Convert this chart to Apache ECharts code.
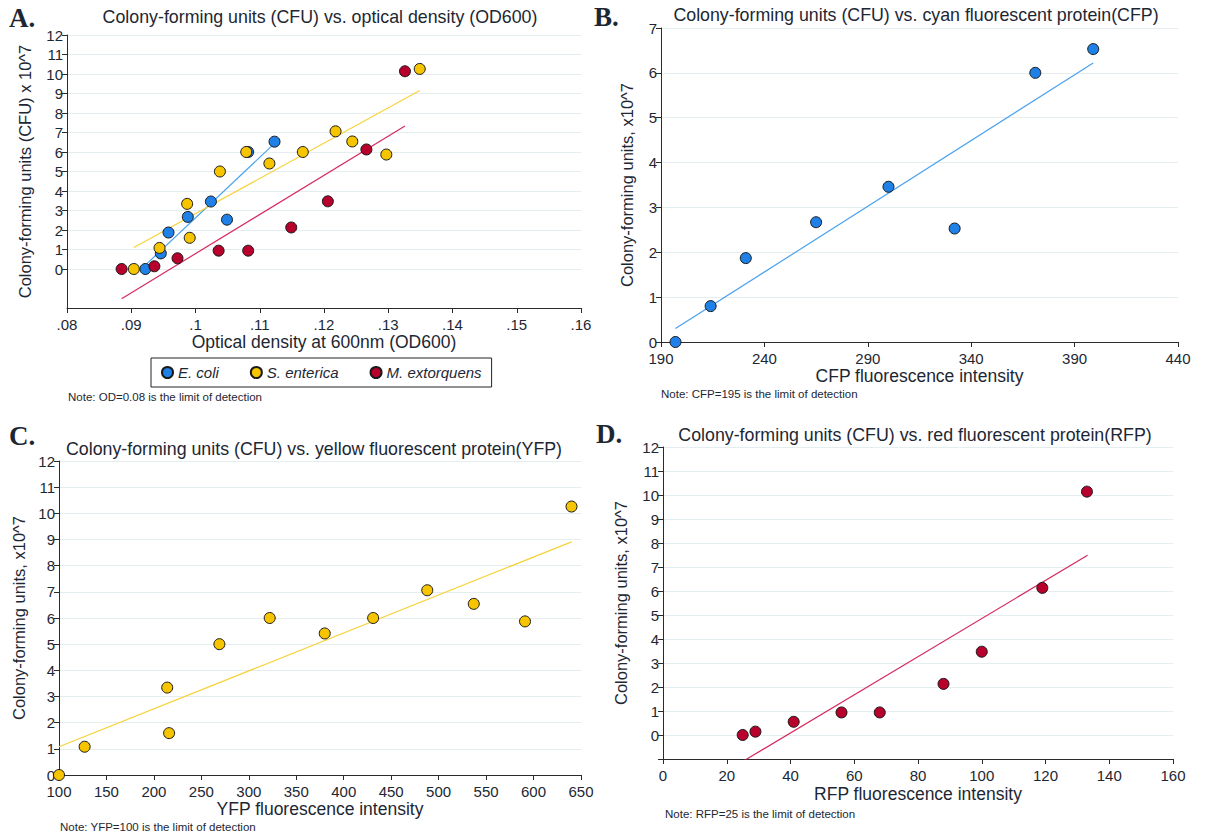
<!DOCTYPE html>
<html>
<head>
<meta charset="utf-8">
<style>
  html, body { margin: 0; padding: 0; background: #fff; }
  #chart { width: 1205px; height: 837px; }
</style>
<script src="https://cdn.jsdelivr.net/npm/echarts@6.0.0/dist/echarts.min.js"></script>
</head>
<body>
<div id="chart"></div>
<script>
// E. coli: OD600, CFP, CFU (x10^7)
const ecoliOD = [0.0922, 0.0946, 0.0958, 0.0988, 0.1024, 0.1049, 0.1082, 0.1123];
const ecoliCFP = [197, 214, 231, 265, 300, 332, 371, 399];
const ecoliCFU = [0, 0.8, 1.87, 2.67, 3.46, 2.53, 6.0, 6.53];

// S. enterica: OD600, YFP, CFU
const sentOD = [0.0904, 0.0944, 0.0987, 0.0991, 0.1038, 0.1079, 0.1115, 0.1167, 0.1218, 0.1244, 0.1297, 0.1349];
const sentYFP = [100, 127, 214, 216, 269, 322, 380, 431, 488, 537, 591, 640];
const sentCFU = [0, 1.08, 3.34, 1.6, 5.0, 6.0, 5.41, 6.0, 7.06, 6.54, 5.87, 10.26];

// M. extorquens: OD600, RFP, CFU
const mextOD = [0.0885, 0.0936, 0.0972, 0.1036, 0.1082, 0.1149, 0.1206, 0.1266, 0.1326];
const mextRFP = [25, 29, 41, 56, 68, 88, 100, 119, 133];
const mextCFU = [0, 0.14, 0.55, 0.94, 0.94, 2.13, 3.47, 6.13, 10.14];

// fitted lines, end points
const fitA_ecoli = { x: [0.0922, 0.1123], y: [0.2, 6.44] };
const fitA_sent = { x: [0.0904, 0.1349], y: [1.1, 9.15] };
const fitA_mext = { x: [0.0885, 0.1326], y: [-1.52, 7.33] };
const fitB = { x: [197, 399], y: [0.3, 6.22] };
const fitC = { x: [100, 640], y: [1.08, 8.91] };
const fitD = { x: [25.3, 133.2], y: [-1.08, 7.49] };

// tick labels
const odTicks = [0.08, 0.09, 0.10, 0.11, 0.12, 0.13, 0.14, 0.15, 0.16];
const cfpTicks = [190, 240, 290, 340, 390, 440];
const yfpTicks = [100, 150, 200, 250, 300, 350, 400, 450, 500, 550, 600, 650];
const rfpTicks = [0, 20, 40, 60, 80, 100, 120, 140, 160];
const cfu12Ticks = [0, 1, 2, 3, 4, 5, 6, 7, 8, 9, 10, 11, 12];
const cfu7Ticks = [0, 1, 2, 3, 4, 5, 6, 7];

const FONT = 'Liberation Sans, Arial, sans-serif';
const TEXT = '#1d2733';
const AXIS = '#2b2b2b';
const BLUE = '#1f80e8', YELLOW = '#f6c500', RED = '#b7002c';
const BLUE_L = '#4aa2ee', YELLOW_L = '#f7d23c', RED_L = '#d62a5e';

const zip = (xs, ys) => xs.map((x, i) => [x, ys[i]]);

function xAxisOf(grid, ticks, interval, name, nameGap, fmt) {
  return {
    type: 'value', gridIndex: grid,
    min: ticks[0], max: ticks[ticks.length - 1], interval,
    name, nameLocation: 'middle', nameGap,
    nameTextStyle: { fontFamily: FONT, fontSize: 17.5, color: TEXT },
    axisLine: { show: true, onZero: false, lineStyle: { color: AXIS, width: 1 } },
    axisTick: { show: true, customValues: ticks, length: 5, lineStyle: { color: AXIS } },
    axisLabel: { customValues: ticks, formatter: fmt, fontFamily: FONT, fontSize: 15, color: TEXT, margin: 9 },
    splitLine: { show: false },
  };
}

function yAxisOf(grid, min, max, labels, ticks, name, nameGap) {
  return {
    type: 'value', gridIndex: grid, min, max, interval: 1,
    name, nameLocation: 'middle', nameGap,
    nameTextStyle: { fontFamily: FONT, fontSize: 16.5, color: TEXT },
    axisLine: { show: true, onZero: false, lineStyle: { color: AXIS, width: 1 } },
    axisTick: { show: true, customValues: ticks, length: 5, lineStyle: { color: AXIS } },
    axisLabel: { customValues: labels, fontFamily: FONT, fontSize: 15, color: TEXT, margin: 4 },
    splitLine: { show: true, lineStyle: { color: '#e4edef', width: 1 } },
  };
}

function scatter(name, xs, ys, color, idx) {
  return {
    type: 'scatter', name, xAxisIndex: idx, yAxisIndex: idx,
    data: zip(xs, ys), symbolSize: 11, z: 3,
    itemStyle: { color, borderColor: '#1a1a1a', borderWidth: 1, opacity: 1 },
    emphasis: { disabled: true },
  };
}

function fitLine(name, fit, color, idx) {
  return {
    type: 'line', name, xAxisIndex: idx, yAxisIndex: idx,
    data: zip(fit.x, fit.y), symbol: 'none', z: 2, silent: true, clip: true,
    lineStyle: { color, width: 1.2 },
  };
}

const odFmt = v => String(+v.toFixed(2)).replace(/^0/, '');

function label(text, x, y, font, align) {
  return {
    type: 'text', x, y, silent: true,
    style: { text, font, fill: TEXT, align: align || 'left', textAlign: align || 'left', verticalAlign: 'middle', textVerticalAlign: 'middle' },
  };
}

const titleFont = '17.8px ' + FONT;
const letterFont = 'bold 27px Liberation Serif, Times New Roman, serif';
const noteFont = '11.5px ' + FONT;

const option = {
  animation: false,
  backgroundColor: '#fff',
  grid: [
    { left: 67, top: 35, width: 514, height: 273 },
    { left: 661, top: 28, width: 517, height: 314 },
    { left: 59, top: 461, width: 522, height: 314 },
    { left: 663, top: 447, width: 510, height: 312 },
  ],
  xAxis: [
    xAxisOf(0, odTicks, 0.01, 'Optical density at 600nm (OD600)', 24, odFmt),
    xAxisOf(1, cfpTicks, 50, 'CFP fluorescence intensity', 25),
    xAxisOf(2, yfpTicks, 50, 'YFP fluorescence intensity', 24),
    xAxisOf(3, rfpTicks, 20, 'RFP fluorescence intensity', 26),
  ],
  yAxis: [
    yAxisOf(0, -2, 12, cfu12Ticks, cfu12Ticks, 'Colony-forming units (CFU) x 10^7', 34),
    yAxisOf(1, 0, 7, cfu7Ticks, cfu7Ticks, 'Colony-forming units, x10^7', 26),
    yAxisOf(2, 0, 12, cfu12Ticks, cfu12Ticks, 'Colony-forming units, x10^7', 32),
    yAxisOf(3, -1, 12, cfu12Ticks, [-1].concat(cfu12Ticks), 'Colony-forming units, x10^7', 34),
  ],
  legend: {
    data: ['E. coli', 'S. enterica', 'M. extorquens'],
    left: 151, top: 358,
    icon: 'circle', itemWidth: 11, itemHeight: 11, itemGap: 31,
    padding: [7, 10], borderColor: '#222', borderWidth: 1,
    textStyle: { fontFamily: FONT, fontStyle: 'italic', fontSize: 15, color: TEXT },
  },
  graphic: [
    label('A.', 9, 18, letterFont),
    label('B.', 594, 17, letterFont),
    label('C.', 9, 436, letterFont),
    label('D.', 596, 434, letterFont),
    label('Colony-forming units (CFU) vs. optical density (OD600)', 320, 17, titleFont, 'center'),
    label('Colony-forming units (CFU) vs. cyan fluorescent protein(CFP)', 916, 15, titleFont, 'center'),
    label('Colony-forming units (CFU) vs. yellow fluorescent protein(YFP)', 314, 449, titleFont, 'center'),
    label('Colony-forming units (CFU) vs. red fluorescent protein(RFP)', 915, 435, titleFont, 'center'),
    label('Note: OD=0.08 is the limit of detection', 68, 397, noteFont),
    label('Note: CFP=195 is the limit of detection', 661, 394, noteFont),
    label('Note: YFP=100 is the limit of detection', 60, 827, noteFont),
    label('Note: RFP=25 is the limit of detection', 665, 814, noteFont),
  ],
  series: [
    fitLine('fit A1', fitA_ecoli, BLUE_L, 0),
    fitLine('fit A2', fitA_sent, YELLOW_L, 0),
    fitLine('fit A3', fitA_mext, RED_L, 0),
    scatter('E. coli', ecoliOD, ecoliCFU, BLUE, 0),
    scatter('S. enterica', sentOD, sentCFU, YELLOW, 0),
    scatter('M. extorquens', mextOD, mextCFU, RED, 0),
    fitLine('fit B', fitB, BLUE_L, 1),
    scatter('E. coli', ecoliCFP, ecoliCFU, BLUE, 1),
    fitLine('fit C', fitC, YELLOW_L, 2),
    scatter('S. enterica', sentYFP, sentCFU, YELLOW, 2),
    fitLine('fit D', fitD, RED_L, 3),
    scatter('M. extorquens', mextRFP, mextCFU, RED, 3),
  ],
};

const chart = echarts.init(document.getElementById('chart'), null, { renderer: 'svg' });
chart.setOption(option);
</script>
</body>
</html>
